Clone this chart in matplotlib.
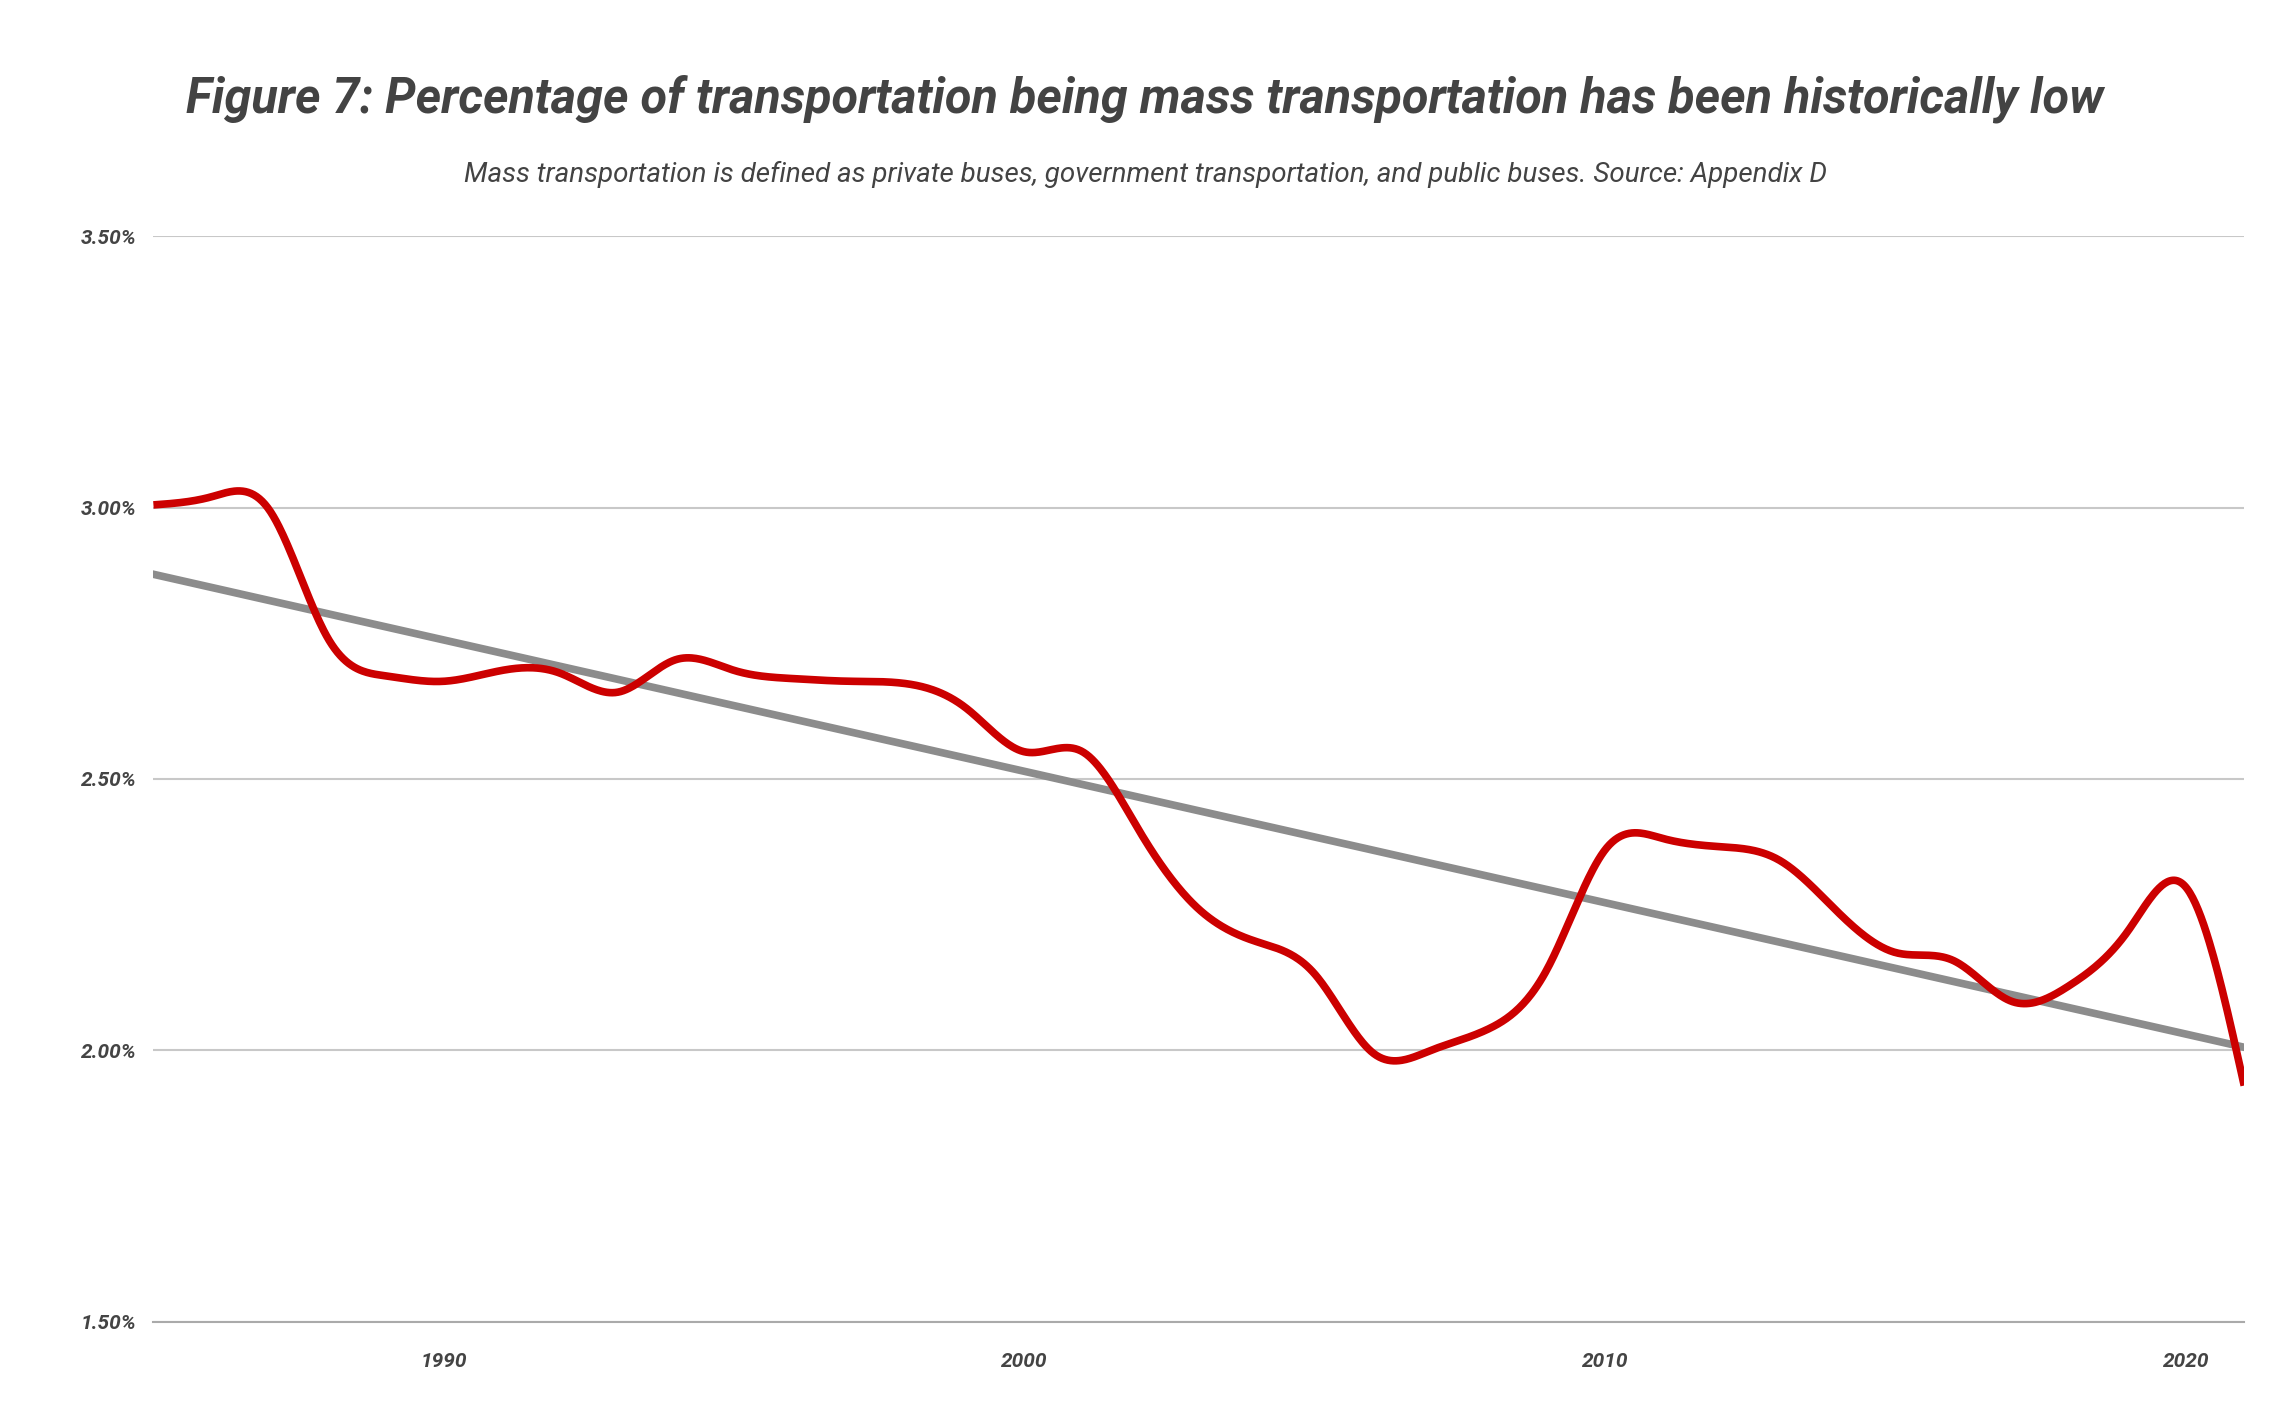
import numpy as np
import matplotlib
matplotlib.use("Agg")
import matplotlib.pyplot as plt
from matplotlib.ticker import FuncFormatter

years = list(range(1985, 2022))
share = [3.005, 3.02, 2.995, 2.76, 2.69, 2.68, 2.70, 2.695, 2.66, 2.72,
         2.70, 2.685, 2.68, 2.675, 2.63, 2.55, 2.55, 2.40, 2.26, 2.20,
         2.14, 1.995, 2.00, 2.04, 2.15, 2.37, 2.39, 2.375, 2.35, 2.255,
         2.18, 2.165, 2.09, 2.12, 2.22, 2.30, 1.935]
yticks = [1.5, 2.0, 2.5, 3.0, 3.5]
xticks = [1990, 2000, 2010, 2020]

def natural_spline(x, y, xs):
    x = np.asarray(x, float); y = np.asarray(y, float)
    n = len(x); h = np.diff(x)
    A = np.zeros((n, n)); r = np.zeros(n)
    A[0, 0] = A[-1, -1] = 1
    for i in range(1, n - 1):
        A[i, i - 1] = h[i - 1]; A[i, i] = 2 * (h[i - 1] + h[i]); A[i, i + 1] = h[i]
        r[i] = 3 * ((y[i + 1] - y[i]) / h[i] - (y[i] - y[i - 1]) / h[i - 1])
    c = np.linalg.solve(A, r)
    b = (y[1:] - y[:-1]) / h - h * (2 * c[:-1] + c[1:]) / 3
    d = (c[1:] - c[:-1]) / (3 * h)
    idx = np.clip(np.searchsorted(x, xs) - 1, 0, n - 2)
    t = xs - x[idx]
    return y[idx] + b[idx] * t + c[idx] * t ** 2 + d[idx] * t ** 3

plt.rcParams['font.family'] = ['Roboto', 'DejaVu Sans']
fig = plt.figure(figsize=(22.9, 14.15), dpi=100)
ax = fig.add_axes([0.067, 0.066, 0.913, 0.767])

xs = np.linspace(years[0], years[-1], 1500)
ax.plot(xs, natural_spline(years, share, xs), color='#cc0000', lw=5.5, zorder=3, solid_capstyle='butt')
k, b0 = np.polyfit(years, share, 1)
xt = np.array([years[0], years[-1]])
ax.plot(xt, k * xt + b0, color='#8c8c8c', lw=5.5, zorder=2)

ax.set_xlim(years[0], years[-1])
ax.set_ylim(1.5, 3.5)
ax.set_yticks(yticks)
ax.set_xticks(xticks)
ax.yaxis.set_major_formatter(FuncFormatter(lambda v, p: f"{v:.2f}%"))
ax.grid(axis='y', color='#c8c8c8', lw=1.5)
ax.set_axisbelow(True)
for s in ['top', 'right', 'left']:
    ax.spines[s].set_visible(False)
ax.spines['bottom'].set_color('#aaaaaa')
ax.spines['bottom'].set_linewidth(1.5)
ax.tick_params(length=0, labelsize=15, labelcolor='#444444', pad=22)
for lab in ax.get_xticklabels() + ax.get_yticklabels():
    lab.set_fontweight('bold'); lab.set_fontstyle('italic')
ax.tick_params(axis='y', pad=12)

fig.text(0.5, 0.93, "Figure 7: Percentage of transportation being mass transportation has been historically low",
         ha='center', va='center', fontsize=35, fontweight='bold', fontstyle='italic', color='#434343')
fig.text(0.5, 0.877, "Mass transportation is defined as private buses, government transportation, and public buses. Source: Appendix D",
         ha='center', va='center', fontsize=20, fontstyle='italic', color='#434343')
fig.savefig("out.png", dpi=100)
